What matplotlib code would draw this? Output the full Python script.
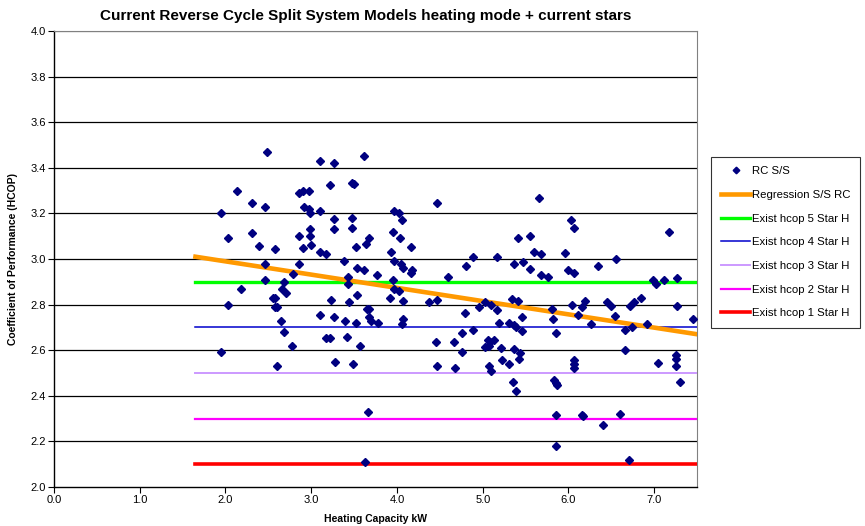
import numpy as np
import matplotlib.pyplot as plt

plt.rcParams['font.family'] = ['Liberation Sans', 'DejaVu Sans']

# scatter: heating capacity (kW) vs HCOP
cap = [2.48, 3.10, 3.26, 3.62, 2.14, 2.31, 2.46, 1.95, 2.86, 2.90, 2.97, 2.91, 2.97, 2.98, 3.10,
       2.31, 2.03, 2.39, 2.58, 2.86, 2.98, 2.98, 2.90, 3.00, 3.10, 2.46, 2.86, 2.79, 2.46, 2.68,
       2.18, 2.66, 2.71, 2.03, 2.55, 2.58, 2.58, 2.60, 3.10, 2.65, 2.68, 2.78, 1.95, 2.60, 3.22,
       3.47, 3.50, 4.47, 3.26, 3.26, 3.47, 3.47, 3.96, 4.02, 4.06, 3.95, 4.04, 3.67, 3.64, 3.52,
       4.16, 3.17, 3.93, 3.38, 3.97, 4.05, 3.53, 3.62, 4.07, 3.77, 4.16, 4.17, 3.43, 3.95, 3.43,
       3.97, 4.02, 3.53, 3.92, 3.23, 3.44, 4.07, 4.37, 4.47, 3.65, 3.67, 3.26, 3.39, 3.52, 3.67,
       3.70, 3.78, 4.07, 4.06, 3.17, 3.22, 3.42, 3.57, 4.46, 3.28, 3.49, 4.47, 3.66, 3.63, 5.66,
       6.03, 6.06, 5.41, 5.55, 5.60, 5.68, 5.96, 4.89, 5.17, 4.81, 5.36, 5.47, 5.55, 5.99, 4.59,
       5.68, 5.76, 5.34, 5.41, 4.96, 5.03, 5.10, 5.81, 7.17, 6.56, 6.35, 6.06, 6.99, 7.02, 7.11,
       7.27, 6.04, 6.16, 6.19, 6.45, 6.50, 6.72, 6.76, 6.84, 7.26, 4.79, 5.17, 5.46, 5.82, 6.11,
       6.54, 7.45, 4.66, 4.76, 4.89, 4.76, 4.68, 5.19, 5.31, 5.37, 5.39, 5.46, 5.06, 5.09, 5.13,
       5.07, 5.03, 5.21, 5.36, 5.43, 5.42, 5.23, 5.31, 5.07, 5.10, 5.35, 5.39, 5.86, 6.26, 6.66,
       6.74, 6.92, 6.66, 6.06, 6.06, 6.06, 7.04, 7.25, 7.25, 7.25, 7.30, 5.83, 5.85, 5.87, 5.86,
       6.16, 6.17, 6.60, 6.40, 5.85, 6.71]
hcop = [3.47, 3.43, 3.42, 3.45, 3.30, 3.245, 3.23, 3.20, 3.29, 3.30, 3.30, 3.23, 3.22, 3.20, 3.21,
        3.115, 3.09, 3.055, 3.045, 3.10, 3.13, 3.10, 3.05, 3.06, 3.03, 2.98, 2.98, 2.935, 2.91, 2.90,
        2.867, 2.87, 2.85, 2.80, 2.83, 2.83, 2.79, 2.79, 2.756, 2.73, 2.68, 2.62, 2.59, 2.53, 3.325,
        3.335, 3.33, 3.245, 3.175, 3.133, 3.18, 3.135, 3.21, 3.20, 3.17, 3.12, 3.09, 3.09, 3.067, 3.054,
        3.054, 3.02, 3.03, 2.99, 2.99, 2.98, 2.96, 2.953, 2.96, 2.93, 2.94, 2.95, 2.92, 2.91, 2.89,
        2.87, 2.86, 2.84, 2.83, 2.82, 2.81, 2.817, 2.81, 2.82, 2.78, 2.78, 2.744, 2.73, 2.72, 2.744,
        2.73, 2.72, 2.737, 2.714, 2.655, 2.652, 2.66, 2.62, 2.636, 2.55, 2.54, 2.53, 2.33, 2.11, 3.266,
        3.17, 3.136, 3.09, 3.10, 3.03, 3.02, 3.025, 3.01, 3.01, 2.97, 2.977, 2.987, 2.957, 2.95, 2.92,
        2.93, 2.92, 2.826, 2.817, 2.79, 2.81, 2.80, 2.78, 3.12, 3.00, 2.97, 2.94, 2.91, 2.89, 2.91,
        2.917, 2.80, 2.79, 2.815, 2.81, 2.795, 2.795, 2.81, 2.83, 2.795, 2.765, 2.775, 2.746, 2.735, 2.756,
        2.75, 2.737, 2.636, 2.677, 2.69, 2.59, 2.52, 2.72, 2.72, 2.71, 2.70, 2.686, 2.645, 2.636, 2.645,
        2.62, 2.615, 2.61, 2.605, 2.586, 2.56, 2.557, 2.54, 2.53, 2.51, 2.46, 2.42, 2.677, 2.714, 2.69,
        2.70, 2.714, 2.60, 2.555, 2.54, 2.52, 2.544, 2.58, 2.56, 2.53, 2.46, 2.47, 2.455, 2.447, 2.317,
        2.317, 2.31, 2.32, 2.27, 2.18, 2.12]

# regression line end points and star levels
reg_x = [1.65, 7.5]
reg_y = [3.01, 2.67]
star_x = [1.65, 7.5]
star_levels = [2.9, 2.7, 2.5, 2.3, 2.1]
star_names = ['Exist hcop 5 Star H', 'Exist hcop 4 Star H', 'Exist hcop 3 Star H',
              'Exist hcop 2 Star H', 'Exist hcop 1 Star H']
star_colors = ['#00FF00', '#0000CC', '#CC99FF', '#FF00FF', '#FF0000']
star_widths = [2.4, 1.1, 1.4, 1.6, 2.6]

fig = plt.figure(figsize=(8.65, 5.26), dpi=100)
ax = fig.add_axes([0.0624, 0.0741, 0.7435, 0.867])

for yv in np.arange(2.2, 4.01, 0.2):
    ax.axhline(yv, color='black' if yv < 3.9 else '#808080', lw=0.9, zorder=1)

ax.plot(cap, hcop, linestyle='none', marker='D', markersize=4.2, color='#000080',
        label='RC S/S', zorder=5)
ax.plot(reg_x, reg_y, color='#FF9900', lw=3.3, label='Regression S/S RC', zorder=4)
for lvl, nm, c, w in zip(star_levels, star_names, star_colors, star_widths):
    ax.plot(star_x, [lvl, lvl], color=c, lw=w, label=nm, zorder=3)

ax.set_xlim(0, 7.5)
ax.set_ylim(2.0, 4.0)
ax.set_xticks(np.arange(0, 7.01, 1.0))
ax.set_xticklabels([f'{v:.1f}' for v in np.arange(0, 7.01, 1.0)], fontsize=8)
ax.set_yticks(np.arange(2.0, 4.01, 0.2))
ax.set_yticklabels([f'{v:.1f}' for v in np.arange(2.0, 4.01, 0.2)], fontsize=8)
ax.tick_params(direction='out', length=4, width=0.8)
ax.tick_params(axis='x', pad=2)
ax.tick_params(axis='y', pad=2)

ax.spines['top'].set_color('#808080')
ax.spines['right'].set_color('#808080')
ax.spines['left'].set_linewidth(1.0)
ax.spines['bottom'].set_linewidth(1.0)

ax.set_title('Current Reverse Cycle Split System Models heating mode + current stars',
             fontsize=11, fontweight='bold', pad=8, x=0.485)
ax.set_xlabel('Heating Capacity kW', fontsize=7.5, fontweight='bold', labelpad=6)
ax.set_ylabel('Coefficient of Performance (HCOP)', fontsize=7.5, fontweight='bold', labelpad=9)

leg = fig.legend(loc='upper left', bbox_to_anchor=(0.822, 0.702), fontsize=8.2,
                 frameon=True, fancybox=False, edgecolor='black', handlelength=2.6,
                 handletextpad=0.15, labelspacing=1.2, borderpad=0.85, borderaxespad=0,
                 markerscale=0.8)
leg.get_frame().set_linewidth(0.8)

fig.savefig('out.png', dpi=100)
